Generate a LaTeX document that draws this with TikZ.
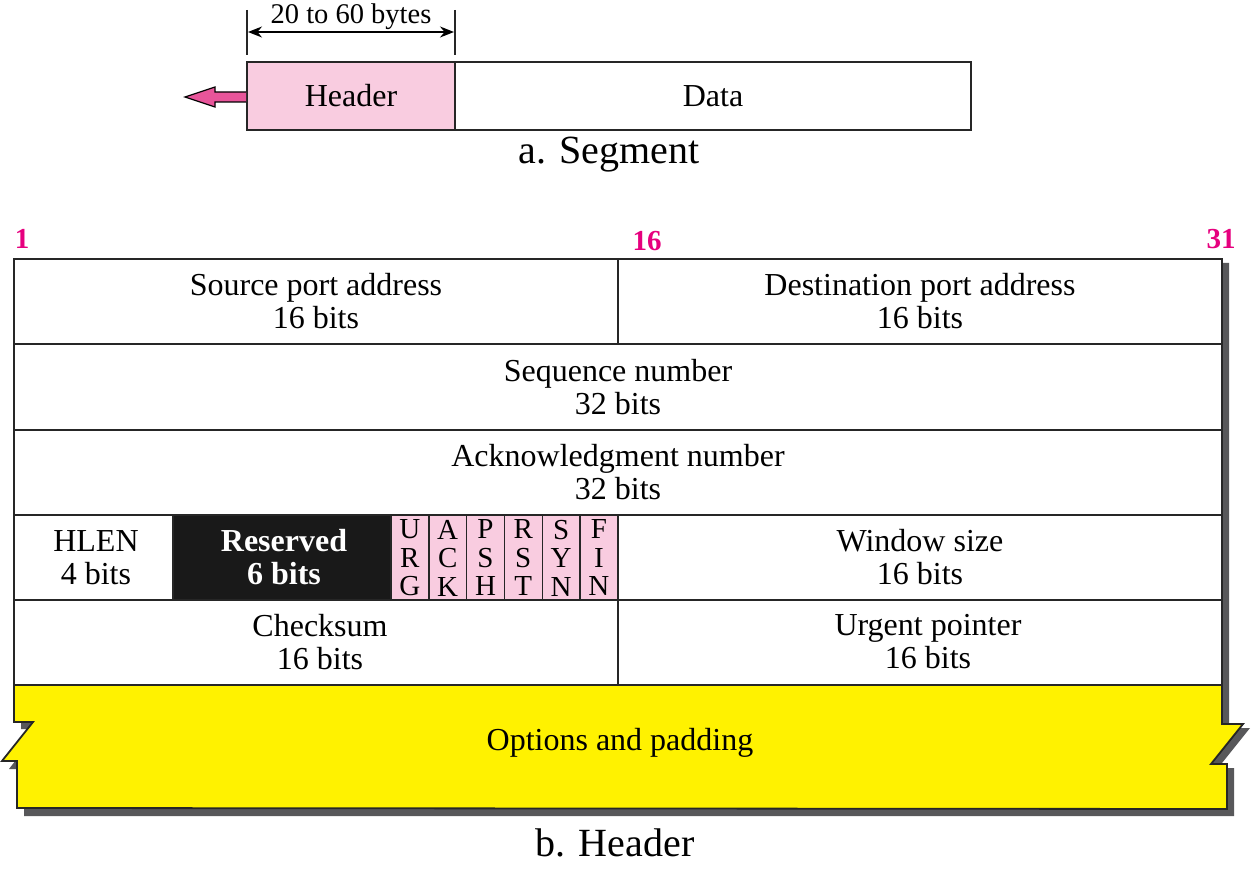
\documentclass[tikz,border=0pt]{standalone}
\usepackage{fontspec}
\setmainfont{Liberation Serif}
\usetikzlibrary{arrows.meta}
\definecolor{pinkfill}{HTML}{F9CCE0}
\definecolor{pinkarrow}{HTML}{E8559A}
\definecolor{magnum}{HTML}{E6007E}
\definecolor{yel}{HTML}{FFF200}
\definecolor{shadowgrey}{HTML}{58585A}
\tikzset{
  txt/.style={align=center, inner sep=0pt, font=\fontsize{32}{33}\selectfont},
  flagtxt/.style={align=center, inner sep=0pt, font=\fontsize{29}{28.5}\selectfont},
  numlbl/.style={inner sep=0pt, text=magnum, font=\bfseries\fontsize{29}{30}\selectfont},
  caption/.style={inner sep=0pt, font=\fontsize{40}{44}\selectfont},
  frame/.style={draw=black!85, line width=1.8pt},
}
\begin{document}
\begin{tikzpicture}[x=1pt,y=-1pt]
\useasboundingbox (0,0) rectangle (1251,869);
% ---------- a. Segment ----------
\fill[pinkfill] (247,62) rectangle (455,130);
\draw[frame] (247,62) rectangle (455,130);
\draw[frame] (455,62) rectangle (971,130);
\node[txt] (hdr) at (351,96) {Header};
\node[txt] (data) at (713,96) {Data};
\draw[frame, line width=1.5pt] (247,10) -- (247,55);
\draw[frame, line width=1.5pt] (455,10) -- (455,55);
\coordinate (dl) at (248,32);
\coordinate (dr) at (454,32);
\draw[line width=1.5pt, {Stealth[length=14pt,width=11pt]}-{Stealth[length=14pt,width=11pt]}] (dl) -- (dr);
\node[txt, font=\fontsize{28.5}{30}\selectfont] (dim) at (351,17) {20 to 60 bytes};
\draw[fill=pinkarrow, draw=black, line width=1.2pt, line join=miter]
  (246,92) -- (215,92) -- (215,87) -- (185,97) -- (215,107) -- (215,102) -- (246,102);
\node[caption] (capa) at (609,155) {a. Segment};
% ---------- b. Header ----------
% shadow
\fill[shadowgrey] (21,263) -- (1229,263) -- (1229,728) -- (1250,728) -- (1218,768) -- (1234,768)
  -- (1234,816) -- (24,816) -- (24,769) -- (9,769) -- (40,729) -- (21,729) -- cycle;
% white table
\fill[white] (14,259) rectangle (1222,685);
% yellow options
\fill[yel] (14,685) -- (1222,685) -- (1222,724) -- (1243,724) -- (1211,764) -- (1227,764)
  -- (1227,809) -- (17,808) -- (17,761) -- (2,761) -- (33,722) -- (14,722) -- cycle;
\draw[frame, line join=miter] (14,685) -- (14,259) -- (1222,259) -- (1222,724) -- (1243,724) -- (1211,764) -- (1227,764)
  -- (1227,809) -- (17,808) -- (17,761) -- (2,761) -- (33,722) -- (14,722) -- (14,685);
% reserved and flags
\fill[black!90] (173,515) rectangle (391,600);
\fill[pinkfill] (391,515) rectangle (618,600);
\foreach \i in {0,...,5} {
  \draw[frame, line width=1.4pt] ({391+\i*37.8},515) rectangle ({391+(\i+1)*37.8},600);
}
% row lines
\draw[frame] (14,344) -- (1222,344);
\draw[frame] (14,430) -- (1222,430);
\draw[frame] (14,515) -- (1222,515);
\draw[frame] (14,600) -- (1222,600);
\draw[frame] (14,685) -- (1222,685);
\draw[frame] (618,259) -- (618,344);
\draw[frame] (618,515) -- (618,685);
\draw[frame] (173,515) -- (173,600);
% texts
\node[txt] (src) at (316,301) {Source port address\\16 bits};
\node[txt] (dst) at (920,301) {Destination port address\\16 bits};
\node[txt] (seq) at (618,387) {Sequence number\\32 bits};
\node[txt] (ack) at (618,472) {Acknowledgment number\\32 bits};
\node[txt] (hlen) at (96,558) {HLEN\\4 bits};
\node[txt, text=white, font=\bfseries\fontsize{32}{33}\selectfont] (res) at (284,557) {Reserved\\6 bits};
\foreach \t [count=\i from 0] in {{U\\R\\G},{A\\C\\K},{P\\S\\H},{R\\S\\T},{S\\Y\\N},{F\\I\\N}} {
  \node[flagtxt] (flag\i) at ({391+(\i+0.5)*37.8},558) {\t};
}
\node[txt] (win) at (920,557) {Window size\\16 bits};
\node[txt] (chk) at (320,642) {Checksum\\16 bits};
\node[txt] (urg) at (928,642) {Urgent pointer\\16 bits};
\node[txt] (opt) at (620,743) {Options and padding};
\node[numlbl] (n1) at (22,239) {1};
\node[numlbl] (n16) at (647,241) {16};
\node[numlbl] (n31) at (1221,239) {31};
\node[caption] (capb) at (615,843) {b. Header};
\end{tikzpicture}
\end{document}
